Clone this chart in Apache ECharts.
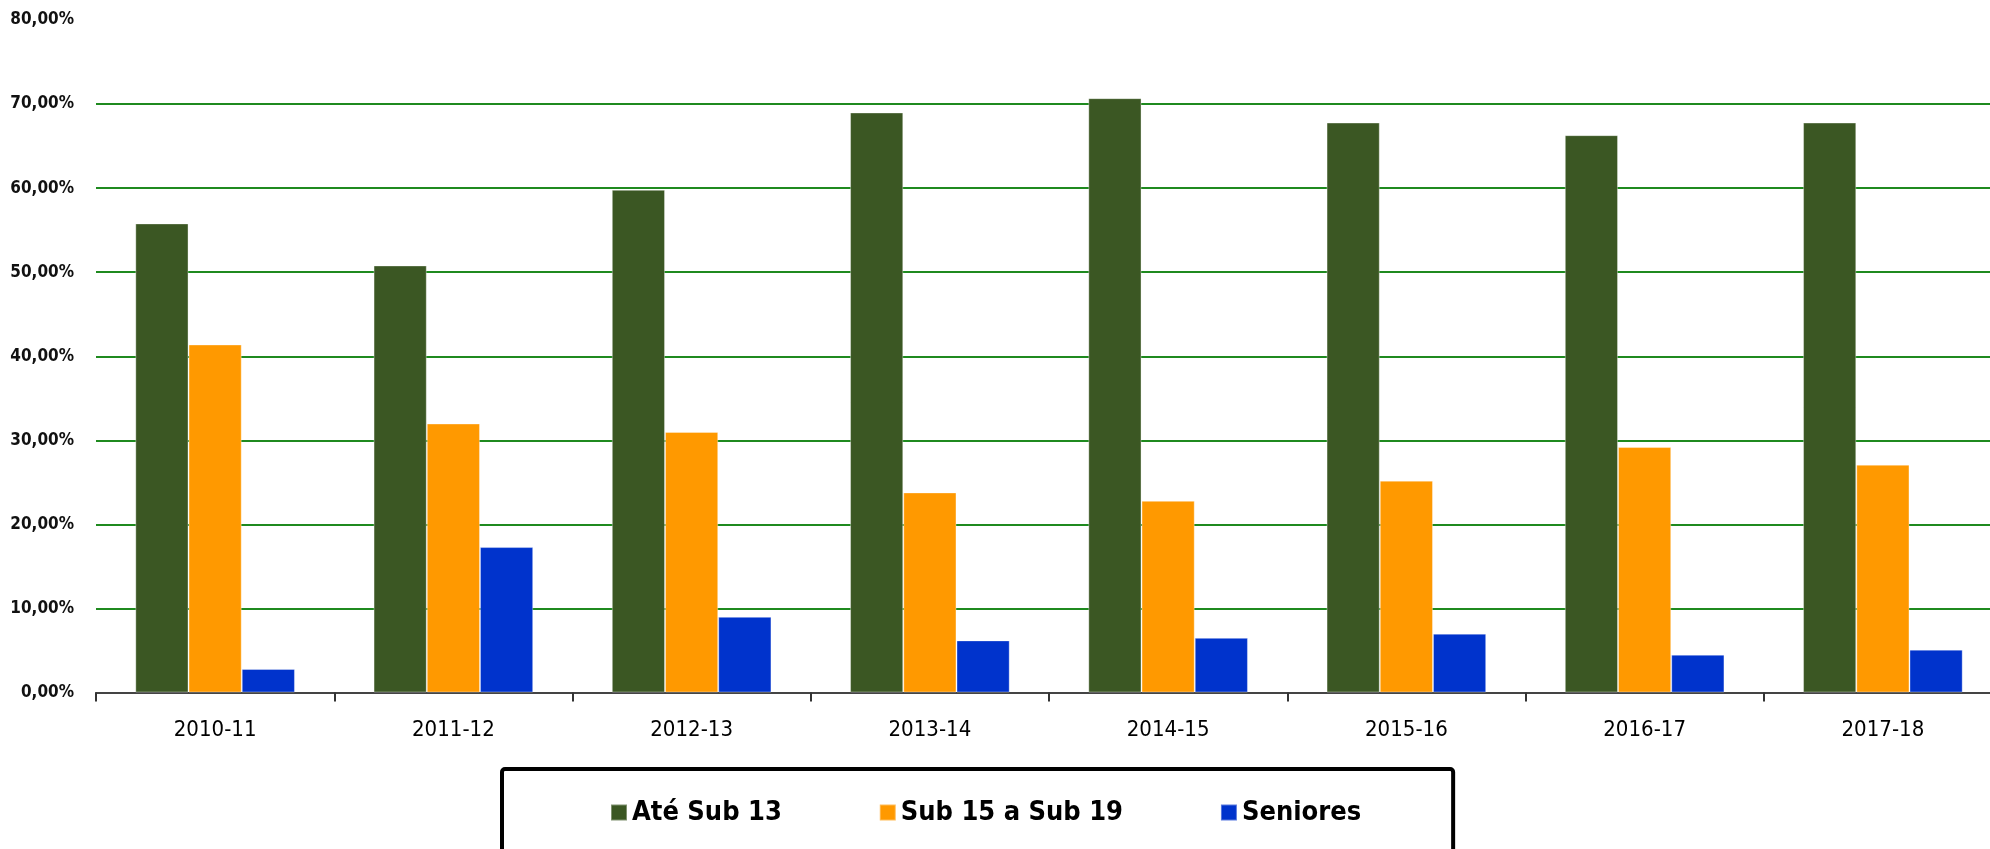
<!DOCTYPE html>
<html>
<head>
<meta charset="utf-8">
<script src="https://cdn.jsdelivr.net/npm/echarts@6/dist/echarts.min.js"></script>
<style>
  html, body { margin: 0; padding: 0; background: #fff; }
  #chart { width: 1990px; height: 849px; }
</style>
</head>
<body>
<div id="chart"></div>
<script>
// épocas
const seasons = ['2010-11', '2011-12', '2012-13', '2013-14', '2014-15', '2015-16', '2016-17', '2017-18'];

// percentagens por escalão
const ateSub13 = [55.8, 50.8, 59.8, 69.0, 70.7, 67.8, 66.3, 67.8];
const sub15a19 = [41.4, 32.0, 31.0, 23.8, 22.8, 25.2, 29.2, 27.1];
const seniores = [2.8, 17.3, 9.0, 6.2, 6.5, 7.0, 4.5, 5.1];

const seriesNames = ['Até Sub 13', 'Sub 15 a Sub 19', 'Seniores'];

const FONT = "'DejaVu Sans Condensed', 'DejaVu Sans', sans-serif";

const chart = echarts.init(document.getElementById('chart'));

const barStyle = (color) => ({
  color: color,
  borderColor: 'rgba(255,255,255,0.35)',
  borderWidth: 1
});

chart.setOption({
  animation: false,
  backgroundColor: '#fff',
  grid: { left: 96, right: -12, top: 20, bottom: 156.5, outerBoundsMode: 'none' },
  legend: {
    left: 502,
    top: 769,
    orient: 'horizontal',
    itemWidth: 16,
    itemHeight: 16,
    itemGap: 97,
    padding: [30, 92, 80, 108],
    borderColor: '#000',
    borderWidth: 4,
    borderRadius: 3,
    icon: 'rect',
    textStyle: { fontFamily: FONT, fontSize: 27, fontWeight: 'bold', color: '#000' },
    data: seriesNames
  },
  xAxis: {
    type: 'category',
    data: seasons,
    axisLine: { lineStyle: { color: '#444', width: 2 } },
    axisTick: { show: true, length: 9, lineStyle: { color: '#333', width: 2 } },
    axisLabel: { fontFamily: FONT, fontSize: 22, color: '#000', margin: 27 }
  },
  yAxis: {
    type: 'value',
    min: 0,
    max: 80,
    interval: 10,
    axisLine: { show: false },
    axisTick: { show: false },
    splitLine: {
      show: true,
      showMinLine: false,
      showMaxLine: false,
      lineStyle: { color: '#1f8a1f', width: 2 }
    },
    axisLabel: {
      fontFamily: FONT,
      fontSize: 17,
      fontWeight: 'bold',
      color: '#111',
      margin: 22,
      formatter: (v) => v.toFixed(2).replace('.', ',') + '%'
    }
  },
  series: [
    { name: seriesNames[0], type: 'bar', data: ateSub13, barGap: '0%', barCategoryGap: '33%', itemStyle: barStyle('#3b5723') },
    { name: seriesNames[1], type: 'bar', data: sub15a19, barGap: '0%', barCategoryGap: '33%', itemStyle: barStyle('#ff9900') },
    { name: seriesNames[2], type: 'bar', data: seniores, barGap: '0%', barCategoryGap: '33%', itemStyle: barStyle('#0033cc') }
  ]
});
</script>
</body>
</html>
